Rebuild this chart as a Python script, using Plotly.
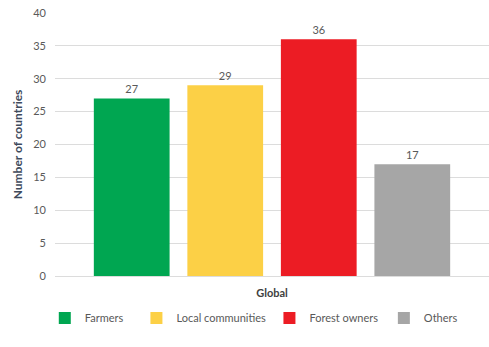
import plotly.graph_objects as go

# Number of countries per group of rights holders, global total
category = ["Global"]
groups = ["Farmers", "Local communities", "Forest owners", "Others"]
counts = [27, 29, 36, 17]
colors = ["#00A651", "#FCD046", "#EC1C24", "#A6A6A6"]

y_ticks = [0, 5, 10, 15, 20, 25, 30, 35, 40]

# left position (container fraction) of each legend entry
legend_x = [0.0916, 0.279, 0.551, 0.785]

FONT = "Lato"
GREY = "#595959"

fig = go.Figure()
for i, (name, val, col) in enumerate(zip(groups, counts, colors)):
    leg = "legend" if i == 0 else f"legend{i + 1}"
    fig.add_trace(go.Bar(
        x=category,
        y=[val],
        name=name,
        marker=dict(color=col, line=dict(width=0)),
        text=[str(val)],
        textposition="outside",
        textfont=dict(family=FONT, size=11, color=GREY),
        cliponaxis=False,
        legend=leg,
    ))

layout_legends = {}
for i, lx in enumerate(legend_x):
    key = "legend" if i == 0 else f"legend{i + 1}"
    layout_legends[key] = dict(
        x=lx, xref="container", xanchor="left",
        y=1 - 318 / 347, yref="container", yanchor="middle",
        orientation="h",
        font=dict(family=FONT, size=11, color=GREY),
        bgcolor="rgba(0,0,0,0)",
        itemwidth=30,
        itemclick=False,
    )

fig.update_layout(
    width=489,
    height=347,
    margin=dict(l=55, r=0, t=13, b=71, autoexpand=False),
    paper_bgcolor="white",
    plot_bgcolor="white",
    barmode="group",
    bargap=0.138,
    bargroupgap=0.19,
    showlegend=True,
    font=dict(family=FONT, color=GREY),
    xaxis=dict(
        type="category",
        range=[-0.5, 0.5],
        showgrid=False,
        showline=False,
        ticks="",
        tickfont=dict(family=FONT, size=11, color="#404040", weight="bold"),
        ticklabelstandoff=9,
    ),
    yaxis=dict(
        range=[0, 40],
        tickvals=y_ticks,
        showgrid=True,
        gridcolor="#DCDCDC",
        gridwidth=1,
        zeroline=True,
        zerolinecolor="#DCDCDC",
        zerolinewidth=1,
        showline=False,
        ticks="",
        tickfont=dict(family=FONT, size=11, color=GREY),
        ticklabelstandoff=8,
        title=dict(
            text="Number of countries",
            font=dict(family=FONT, size=12, color="#3E4A5C", weight="bold"),
            standoff=8,
        ),
    ),
    **layout_legends,
)

fig.write_html("out.html")
